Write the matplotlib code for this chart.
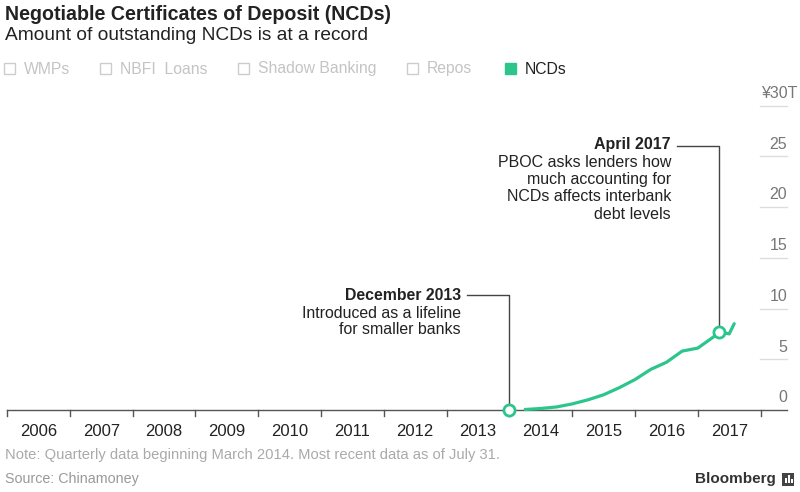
import numpy as np
import matplotlib.pyplot as plt
from matplotlib.patches import Rectangle

plt.rcParams['font.family'] = ['Liberation Sans', 'DejaVu Sans']

# quarterly NCD outstanding, trillion yuan (plus April / July 2017)
dates = [2014.25, 2014.5, 2014.75, 2015.0, 2015.25, 2015.5, 2015.75, 2016.0,
         2016.25, 2016.5, 2016.75, 2017.0, 2017.25, 2017.33, 2017.5, 2017.58]
ncds = [0.05, 0.15, 0.3, 0.6, 1.0, 1.5, 2.2, 3.0,
        4.0, 4.7, 5.8, 6.1, 7.2, 7.7, 7.5, 8.5]
years = list(range(2006, 2018))
yticks = [0, 5, 10, 15, 20, 25, 30]
ylabels = ['0', '5', '10', '15', '20', '25', '¥30T']
legend_names = ['WMPs', 'NBFI  Loans', 'Shadow Banking', 'Repos', 'NCDs']

GREEN = '#2cc68d'
DARK = '#222222'
GRAY = '#aaaaaa'
W, H = 800, 492

def fx(x):
    return x / W

def fy(y):
    return 1 - y / H

fig = plt.figure(figsize=(8, 4.92), dpi=100)
# axes: x 7..765 px, baseline at 410 px, ~10.15 px per unit
x0, x1 = 7, 765
pxyear = 62.8
pxunit = 10.15
ax = fig.add_axes([fx(x0), fy(410), fx(x1 - x0), (31 * pxunit) / H])
ax.set_xlim(2006, 2006 + (x1 - x0) / pxyear)
ax.set_ylim(0, 31)
ax.axis('off')

def dx(px):
    return 2006 + (px - x0) / pxyear

def dy(py):
    return (410 - py) / pxunit

ax.plot(dates, ncds, color=GREEN, lw=2.3, solid_capstyle='round', solid_joinstyle='round',
        clip_on=False, zorder=3)

# baseline + year ticks
ax.plot([2006, dx(787)], [0, 0], color='#555555', lw=1, clip_on=False)
for yr in years + [2018]:
    ax.plot([yr, yr], [0, -0.55], color='#555555', lw=1, clip_on=False)
for yr in years:
    ax.text(yr + 0.5, dy(431), str(yr), ha='center', va='center', fontsize=12, color=DARK)

# right-side y labels with short gridlines
for v, lab in zip(yticks, ylabels):
    if v > 0:
        ax.plot([dx(760), dx(787)], [v, v], color='#dddddd', lw=1, clip_on=False)
    xr = 797 if lab.startswith('¥') else 787
    ax.text(dx(xr), v + 1.2, lab, ha='right', va='center', fontsize=11.5, color='#777777')

# annotation: December 2013
ax.plot([dx(467), 2014.0, 2014.0], [dy(295), dy(295), 0], color='#444444', lw=1, clip_on=False)
ax.plot([2014.0], [0], 'o', ms=8, mfc='white', mec=GREEN, mew=2, clip_on=False, zorder=5)
ax.text(dx(461), dy(296), 'December 2013', ha='right', va='center', fontsize=11.4, fontweight='bold', color=DARK)
ax.text(dx(461), dy(313), 'Introduced as a lifeline', ha='right', va='center', fontsize=11.4, color=DARK)
ax.text(dx(461), dy(330), 'for smaller banks', ha='right', va='center', fontsize=11.4, color=DARK)

# annotation: April 2017
ax.plot([dx(677), 2017.33, 2017.33], [dy(146), dy(146), 7.7], color='#444444', lw=1, clip_on=False)
ax.plot([2017.33], [7.7], 'o', ms=8, mfc='white', mec=GREEN, mew=2, clip_on=False, zorder=5)
lines = ['April 2017', 'PBOC asks lenders how', 'much accounting for',
         'NCDs affects interbank', 'debt levels']
for i, t in enumerate(lines):
    ax.text(dx(671), dy(145 + i * 17.3), t, ha='right', va='center', fontsize=11.5,
            fontweight='bold' if i == 0 else 'normal', color=DARK)

# titles
fig.text(fx(5), fy(14), 'Negotiable Certificates of Deposit (NCDs)', fontsize=14.1,
         fontweight='bold', color=DARK, va='center')
fig.text(fx(5), fy(36), 'Amount of outstanding NCDs is at a record', fontsize=13.8,
         color=DARK, va='center')

# legend
leg_x = [4, 100, 238, 407, 505]
for name, lx in zip(legend_names, leg_x):
    on = name == 'NCDs'
    fig.patches.append(Rectangle((fx(lx), fy(74)), fx(11), 11 / H, transform=fig.transFigure,
                                 facecolor=GREEN if on else 'white',
                                 edgecolor=GREEN if on else '#cccccc', lw=1))
    fig.text(fx(lx + 20), fy(69), name, fontsize=11.3, va='center',
             color=DARK if on else '#c4c4c4')

# footer
fig.text(fx(5), fy(455), 'Note: Quarterly data beginning March 2014. Most recent data as of July 31.',
         fontsize=10.6, color=GRAY, va='center')
fig.text(fx(5), fy(479), 'Source: Chinamoney', fontsize=10.3, color='#999999', va='center')
fig.text(fx(776), fy(479), 'Bloomberg', fontsize=11, fontweight='bold', color='#333333',
         va='center', ha='right')
fig.patches.append(Rectangle((fx(782), fy(486)), fx(12), 13 / H, transform=fig.transFigure,
                             facecolor='#444444', edgecolor='none'))
for bx, bh in zip([785, 788, 791], [5, 8, 4]):
    fig.patches.append(Rectangle((fx(bx), fy(483)), fx(1.5), bh / H, transform=fig.transFigure,
                                 facecolor='white', edgecolor='none'))

fig.savefig('out.png', dpi=100)
